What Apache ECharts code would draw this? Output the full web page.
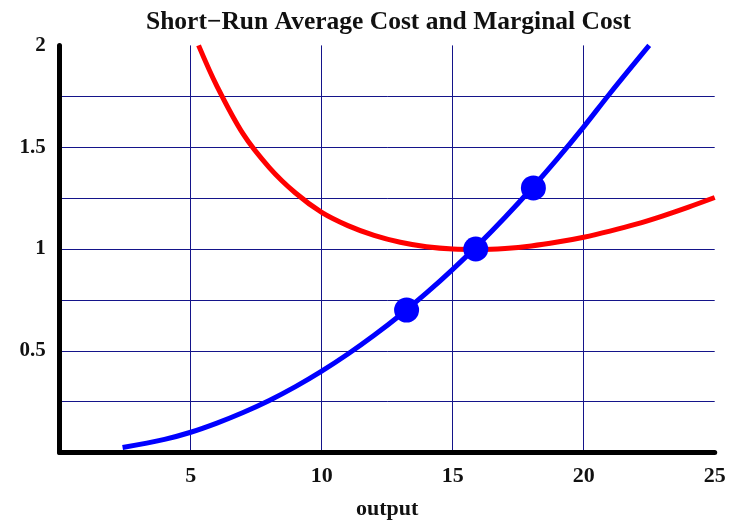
<!DOCTYPE html>
<html>
<head>
<meta charset="utf-8">
<script src="https://cdn.jsdelivr.net/npm/echarts@6/dist/echarts.min.js"></script>
<style>html,body{margin:0;padding:0;background:#fff;}#c{width:742px;height:520px;}</style>
</head>
<body>
<div id="c"></div>
<script>
// Data
var titleText = 'Short\u2212Run Average Cost and Marginal Cost';
var xName = 'output';
var xTicks = [5, 10, 15, 20, 25];
var yTicks = [0.5, 1, 1.5, 2];

// Average cost (red)
var acOutput = [5.3, 6, 7, 8, 9, 10, 11, 12, 13, 14, 15, 16, 17, 18, 19, 20, 21, 22, 23, 24, 25];
var acCost   = [2.0, 1.80, 1.565, 1.40, 1.275, 1.18, 1.115, 1.067, 1.033, 1.011, 1.0, 0.998, 1.003, 1.015, 1.034, 1.058, 1.088, 1.122, 1.162, 1.206, 1.253];

// Marginal cost (blue)
var mcOutput = [2.4, 4, 5, 6, 7, 8, 9, 10, 11, 12, 13, 14, 15, 16, 17, 18, 19, 20, 21, 22.5];
var mcCost   = [0.025, 0.065, 0.10, 0.145, 0.197, 0.256, 0.324, 0.40, 0.484, 0.576, 0.676, 0.784, 0.90, 1.024, 1.156, 1.296, 1.444, 1.60, 1.764, 2.0];

// Highlighted points (blue dots)
var dotOutput = [13.24, 15.88, 18.08];
var dotCost   = [0.70, 1.0, 1.30];

function pairs(xs, ys) { return xs.map(function (x, i) { return [x, ys[i]]; }); }

var FONT = 'Liberation Serif';
var GRIDC = '#14148a';

var chart = echarts.init(document.getElementById('c'), null, {renderer: 'canvas'});
chart.setOption({
  backgroundColor: '#ffffff',
  animation: false,
  title: {
    text: titleText,
    left: 141, top: 4,
    textStyle: {fontFamily: FONT, fontWeight: 'bold', fontSize: 25.5, color: '#111'}
  },
  grid: {left: 59.7, right: 27.3, top: 45.4, bottom: 67.4, containLabel: false, outerBoundsMode: 'none'},
  xAxis: {
    type: 'value', min: 0, max: 25, interval: 5,
    name: xName, nameLocation: 'middle', nameGap: 46,
    nameTextStyle: {fontFamily: FONT, fontWeight: 'bold', fontSize: 22, color: '#111'},
    axisLine: {show: true, onZero: false, lineStyle: {color: '#000', width: 5}},
    axisTick: {show: false},
    axisLabel: {
      margin: 13, fontFamily: FONT, fontWeight: 'bold', fontSize: 22, color: '#111',
      formatter: function (v) { return xTicks.indexOf(v) >= 0 ? String(v) : ''; }
    },
    splitLine: {show: true, showMinLine: false, showMaxLine: false, lineStyle: {color: GRIDC, width: 1}}
  },
  yAxis: {
    type: 'value', min: 0, max: 2, interval: 0.25,
    axisLine: {show: true, onZero: false, lineStyle: {color: '#000', width: 5}},
    axisTick: {show: false},
    axisLabel: {
      margin: 14, fontFamily: FONT, fontWeight: 'bold', fontSize: 21, color: '#111',
      formatter: function (v) { return yTicks.indexOf(v) >= 0 ? String(v) : ''; }
    },
    splitLine: {show: true, showMinLine: false, showMaxLine: false, lineStyle: {color: GRIDC, width: 1}}
  },
  series: [
    {
      name: 'AC', type: 'line', data: pairs(acOutput, acCost), smooth: 0.35,
      showSymbol: false, symbol: 'none', clip: true,
      lineStyle: {color: '#ff0000', width: 5}, z: 3
    },
    {
      name: 'MC', type: 'line', data: pairs(mcOutput, mcCost), smooth: 0.35,
      showSymbol: false, symbol: 'none', clip: true,
      lineStyle: {color: '#0000ff', width: 5}, z: 4
    },
    {
      name: 'points', type: 'scatter', data: pairs(dotOutput, dotCost),
      symbol: 'circle', symbolSize: 25, itemStyle: {color: '#0000ff', opacity: 1}, z: 5
    }
  ]
});
</script>
</body>
</html>
